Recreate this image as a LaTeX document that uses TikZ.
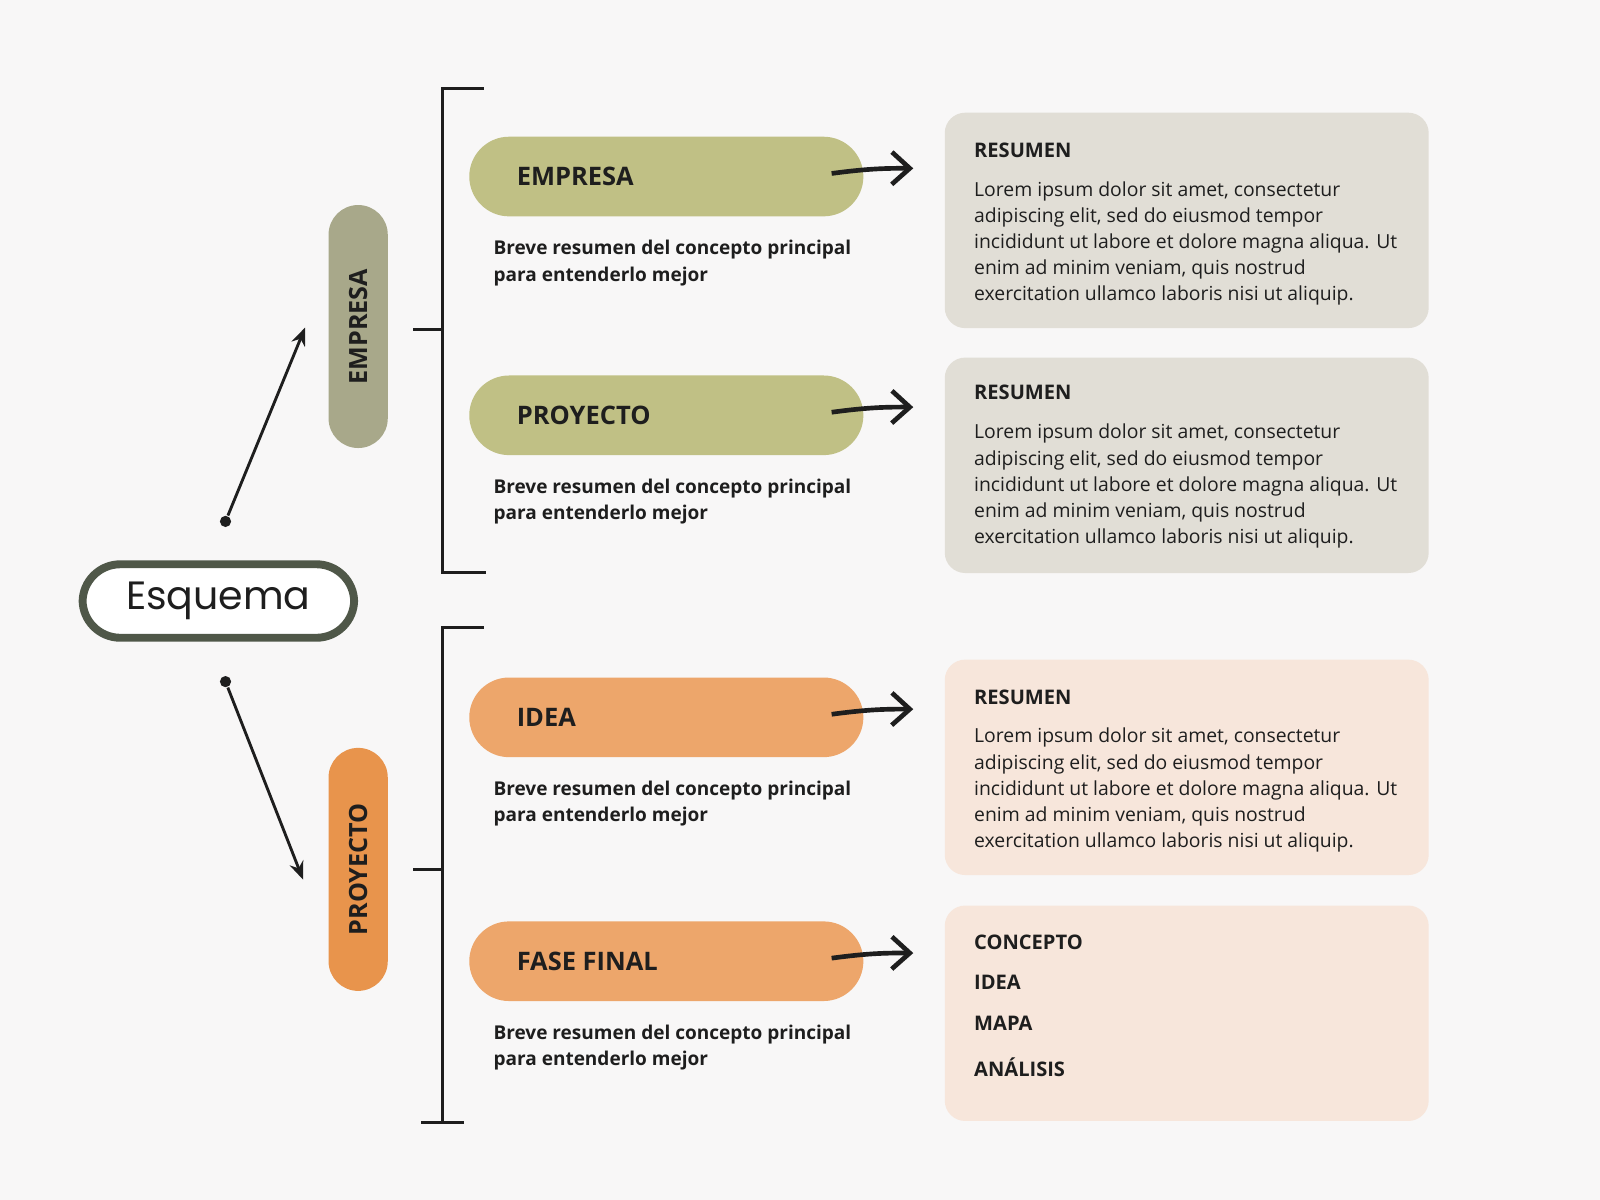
\documentclass[tikz,border=0pt]{standalone}
\usepackage{fontspec}
\setmainfont{Open Sans}
\newfontfamily\titlefont{Poppins}
\usetikzlibrary{arrows.meta,positioning}
\definecolor{bgc}{HTML}{F8F7F7}
\definecolor{olive}{HTML}{A8A88A}
\definecolor{lime}{HTML}{C0C085}
\definecolor{orng}{HTML}{E8944C}
\definecolor{peach}{HTML}{EDA66B}
\definecolor{grayb}{HTML}{E1DED6}
\definecolor{peachb}{HTML}{F7E6DB}
\definecolor{ink}{HTML}{1E1E1E}
\definecolor{rim}{HTML}{4F5748}
\begin{document}
\begin{tikzpicture}[x=0.01cm,y=-0.01cm,
  side/.style={shape=rectangle,rounded corners=0.29cm,minimum width=0.58cm,minimum height=2.38cm,inner sep=0pt},
  pill/.style={shape=rectangle,rounded corners=0.39cm,minimum width=3.86cm,minimum height=0.78cm,inner sep=0pt},
  plab/.style={anchor=west,font=\fontsize{7.1}{8}\selectfont\bfseries,text=ink},
  sub/.style={anchor=north west,align=left,font=\fontsize{5.3}{7.3}\selectfont\bfseries,text=ink,inner sep=0pt},
  box/.style={shape=rectangle,rounded corners=0.2cm,minimum width=4.74cm,minimum height=2.11cm,inner sep=0pt},
  body/.style={anchor=north west,align=left,font=\fontsize{5.4}{7.3}\selectfont,text=ink,inner sep=0pt},
  bhead/.style={anchor=north west,font=\fontsize{5.6}{7}\selectfont\bfseries,text=ink,inner sep=0pt},
  dot/.style={circle,fill=ink,inner sep=0pt,minimum size=0.11cm},
  lnk/.style={ink,line width=0.8pt,-{Stealth[length=5pt,width=4pt]}},
  nxt/.style={ink,line width=1.3pt,-{Straight Barb[length=5pt,width=9pt]}},
  brk/.style={ink,line width=0.8pt}]
\fill[bgc] (0,0) rectangle (1568,1176);

\def\lorem{Lorem ipsum dolor sit amet, consectetur\\adipiscing elit, sed do eiusmod tempor\\incididunt ut labore et dolore magna aliqua. Ut\\enim ad minim veniam, quis nostrud\\exercitation ullamco laboris nisi ut aliquip.}
\def\breve{Breve resumen del concepto principal\\para entenderlo mejor}

% central node
\node[draw=rim,line width=2.2pt,rounded corners=0.37cm,minimum width=2.66cm,minimum height=0.72cm,fill=white,
  font=\titlefont\fontsize{11}{12}\selectfont,text=ink] (esq) at (214,589) {Esquema};

% side pills
\node[side,fill=olive] (sE) at (351,320) {};
\node[rotate=90,font=\fontsize{7}{8}\selectfont\bfseries,text=ink] at (sE) {EMPRESA};
\node[side,fill=orng] (sP) at (351,852) {};
\node[rotate=90,font=\fontsize{7}{8}\selectfont\bfseries,text=ink] at (sP) {PROYECTO};

\node[dot] (d1) at (221,511) {};
\node[dot] (d2) at (221,668) {};
\coordinate (a1) at (299,321);
\coordinate (a2) at (297,862);
\draw[lnk] (d1) -- (a1);
\draw[lnk] (d2) -- (a2);

% brackets
\draw[brk] (474,87) -- (434,87) -- (434,561) -- (476,561);
\draw[brk] (405,323) -- (434,323);
\draw[brk] (474,615) -- (434,615) -- (434,1100);
\draw[brk] (413,1100) -- (455,1100);
\draw[brk] (405,852) -- (434,852);

% topic pills
\foreach \n/\y/\c/\t in {p1/173/lime/EMPRESA,p2/407/lime/PROYECTO,p3/703/peach/IDEA,p4/942/peach/FASE FINAL}{
  \node[pill,fill=\c] (\n) at (653,\y) {};
  \node[plab] at (494,\y) {\t};
  \node[sub] at (483,\y+62) {\breve};
  \coordinate (\n s) at (815,\y-3);
  \coordinate (\n e) at (895,\y-8);
  \draw[nxt] (\n s) to[bend left=4] (\n e);
}

% boxes
\foreach \n/\y/\c in {b1/216/grayb,b2/456/grayb,b3/752/peachb,b4/993/peachb}{
  \node[box,fill=\c] (\n) at (1163,\y) {};
}
\foreach \y in {139,377,675}{
  \node[bhead] at (954,\y) {RESUMEN};
  \node[body] at (954,\y+38) {\lorem};
}
\foreach \t/\y in {CONCEPTO/916,IDEA/955,MAPA/995,ANÁLISIS/1036}{
  \node[bhead] at (954,\y) {\t};
}
\end{tikzpicture}
\end{document}
